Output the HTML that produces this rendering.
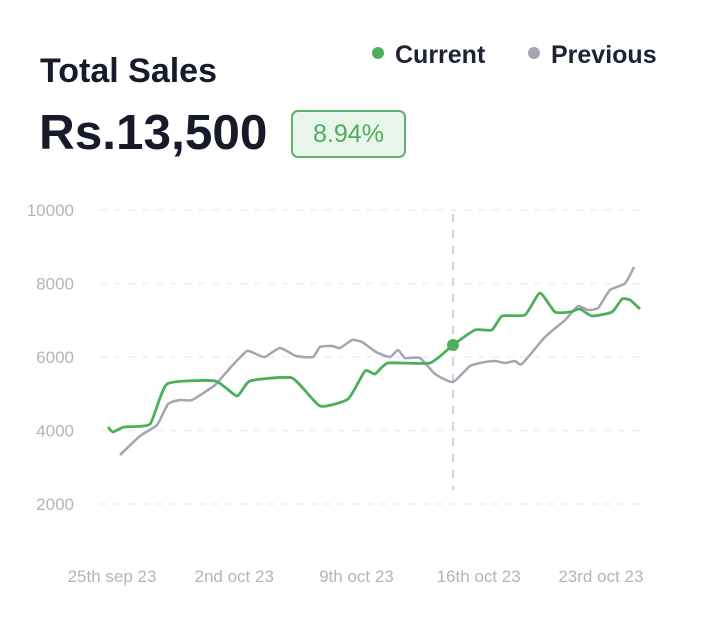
<!DOCTYPE html>
<html><head><meta charset="utf-8"><style>
body{margin:0;width:701px;height:634px;background:#fff;font-family:"Liberation Sans",sans-serif;overflow:hidden;position:relative}
.t{position:absolute;color:#161a2b}
</style></head><body>
<div class="t" style="left:40px;top:52px;font-size:34px;font-weight:600">Total Sales</div>
<div class="t" style="left:39px;top:104px;font-size:49.5px;font-weight:700">Rs.13,500</div>
<div style="position:absolute;left:291px;top:110px;width:111px;height:44px;border:2px solid #5cb46a;border-radius:7px;background:#eaf6ec;color:#4caf5c;font-size:25px;line-height:44px;text-align:center">8.94%</div>
<div style="position:absolute;left:372px;top:41px;font-size:25px;font-weight:600;color:#1e2235"><span style="display:inline-block;width:12px;height:12px;border-radius:6px;background:#4caf5c;margin-right:11px;vertical-align:4px"></span>Current</div>
<div style="position:absolute;left:528px;top:41px;font-size:25px;font-weight:600;color:#1e2235"><span style="display:inline-block;width:12px;height:12px;border-radius:6px;background:#a3a5b0;margin-right:11px;vertical-align:4px"></span>Previous</div>
<svg id="chart" width="701" height="634" style="position:absolute;left:0;top:0"></svg>
<script>
const yTicks=[2000,4000,6000,8000,10000];
const xTickLabels=["25th sep 23","2nd oct 23","9th oct 23","16th oct 23","23rd oct 23"];
const xTickDays=[0,7,14,21,28];
const curDays=[-0.23,0.06,0.69,2.18,3.15,5.9,7.16,7.9,10.31,11.91,13.52,14.49,15.06,15.81,18.21,19.53,20.79,21.76,22.34,23.65,24.51,25.37,26.23,26.8,27.49,28.64,29.21,29.67,30.24];
const curVals=[4095,3959,4095,4177,5265,5347,4939,5347,5429,4667,4857,5619,5538,5837,5837,6327,6735,6735,7116,7143,7742,7225,7225,7306,7116,7225,7578,7551,7306];
const prevDays=[0.46,1.6,2.58,3.21,3.89,4.58,5.9,6.76,7.73,8.36,8.76,9.62,10.54,11.51,11.91,12.6,13.06,13.75,14.32,15.12,15.92,16.38,16.78,17.64,18.5,19.53,20.5,21.36,21.93,22.51,23.08,23.48,24.8,25.95,26.69,27.26,27.84,28.52,29.38,29.9];
const prevVals=[3333,3851,4150,4721,4830,4830,5238,5701,6163,6055,6000,6245,6027,6000,6272,6299,6245,6463,6408,6136,6000,6191,5973,5973,5537,5320,5755,5864,5891,5837,5891,5810,6544,7007,7388,7279,7333,7823,8000,8449];
const markerDay=19.53, markerVal=6327;
const svg=document.getElementById('chart'),NS='http://www.w3.org/2000/svg';
const x=d=>112+d*17.46, y=v=>504-(v-2000)*294/8000;
function mk(t,a){const e=document.createElementNS(NS,t);for(const k in a)e.setAttribute(k,a[k]);svg.appendChild(e);return e;}
yTicks.forEach(v=>{
 const g=mk('line',{x1:100,x2:640,y1:y(v),y2:y(v),stroke:'#eceef1','stroke-width':1.5,'stroke-dasharray':'7 7'});
 
 
 const t=mk('text',{x:74,y:y(v)+6,'text-anchor':'end','font-size':17,fill:'#b2b5bd'});
 t.textContent=v;
 
 
});
xTickLabels.forEach((l,i)=>{
 const t=mk('text',{x:x(xTickDays[i]),y:582,'text-anchor':'middle','font-size':17,fill:'#b2b5bd'});
 t.textContent=l;
 
 
});
const vl=mk('line',{x1:x(markerDay),x2:x(markerDay),y1:214,y2:490,stroke:'#d4d5da','stroke-width':2,'stroke-dasharray':'8 8'});


function path(ds,vs){const p=ds.map((d,i)=>[x(d),y(vs[i])]);const k=12;let s='M'+p[0];for(let i=0;i<p.length-1;i++){const a=p[i-1]||p[i],b=p[i],c=p[i+1],e=p[i+2]||c;s+=' C'+(b[0]+(c[0]-a[0])/k)+','+(b[1]+(c[1]-a[1])/k)+' '+(c[0]-(e[0]-b[0])/k)+','+(c[1]-(e[1]-b[1])/k)+' '+c;}return s;}
const pl=mk('path',{d:path(prevDays,prevVals),fill:'none',stroke:'#a3a5b0','stroke-width':2.5,'stroke-linejoin':'round'});


const cl=mk('path',{d:path(curDays,curVals),fill:'none',stroke:'#4caf5c','stroke-width':2.8,'stroke-linejoin':'round'});


const dot=mk('circle',{cx:x(markerDay),cy:y(markerVal),r:6,fill:'#4caf5c'});


</script>
</body></html>
